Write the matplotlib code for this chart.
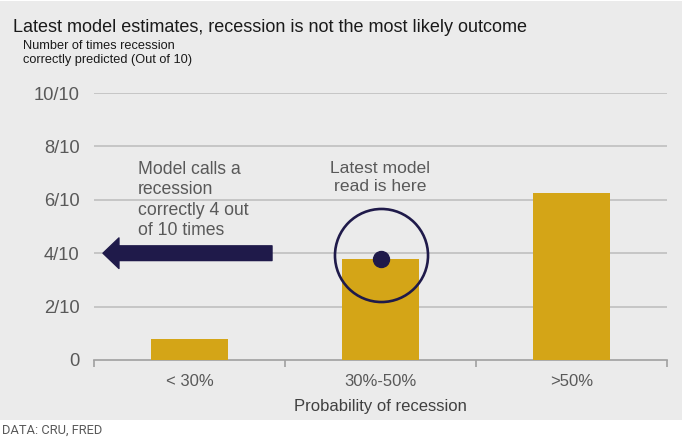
import matplotlib.pyplot as plt
import matplotlib.patches as patches

# data
categories = ["< 30%", "30%-50%", ">50%"]
correct_out_of_10 = [0.8, 3.78, 6.25]
yticks = [0, 2, 4, 6, 8, 10]
ytick_labels = ["0", "2/10", "4/10", "6/10", "8/10", "10/10"]
latest_read = 1  # index of category holding the latest model read

plt.rcParams['font.family'] = ['Liberation Sans', 'DejaVu Sans']

W, H = 684, 437
fig = plt.figure(figsize=(W / 100, H / 100), dpi=100)
fig.patch.set_facecolor("white")

# grey panel behind everything except the source line
fig.patches.append(patches.Rectangle((0, 1 - 420 / H), 682 / W, 419 / H,
                                     transform=fig.transFigure,
                                     facecolor="#ebebeb", edgecolor="none", zorder=-5))

ax = fig.add_axes([94 / W, 1 - 360 / H, (667 - 94) / W, (360 - 93) / H])
ax.set_facecolor("none")

x = range(len(categories))
ax.bar(x, correct_out_of_10, width=0.4, color="#d4a517", zorder=3)

ax.set_xlim(-0.5, len(categories) - 0.5)
ax.set_ylim(0, 10)

for y in yticks[1:]:
    ax.axhline(y, color="#bfbfbf", lw=1.2, zorder=1)

for s in ["top", "right", "left"]:
    ax.spines[s].set_visible(False)
ax.spines["bottom"].set_color("#a0a0a0")
ax.spines["bottom"].set_linewidth(1.2)

ax.set_yticks(yticks)
ax.set_yticklabels(ytick_labels)
ax.tick_params(axis="y", length=0, pad=10.5, labelsize=13.2, labelcolor="#595959")

ax.set_xticks(list(x))
ax.set_xticklabels(categories)
ax.tick_params(axis="x", which="major", length=0, pad=10, labelsize=12, labelcolor="#595959")
ax.set_xticks([i - 0.5 for i in range(len(categories) + 1)], minor=True)
ax.tick_params(axis="x", which="minor", length=5, width=1.2, color="#a0a0a0", direction="out")

ax.set_xlabel("Probability of recession", fontsize=12, color="#404040", labelpad=7)

# latest model read marker
navy = "#1f1a4a"
ax.plot(latest_read, correct_out_of_10[latest_read], "o", ms=11.5, color=navy, zorder=5)
ax.plot(latest_read, 3.93, "o", ms=67, mfc="none", mec=navy, mew=1.9, zorder=5)
ax.text(latest_read, 7.45, "Latest model\nread is here", ha="center", va="top",
        fontsize=12.6, color="#595959", linespacing=1.25)

# arrow pointing left to the 4/10 line
ax.annotate("", xy=(-0.453, 4), xytext=(0.432, 4),
            arrowprops=dict(arrowstyle="simple,head_length=11.5,head_width=22,tail_width=10.6",
                            mutation_scale=1, color=navy, shrinkA=0, shrinkB=0), zorder=5)
ax.text(-0.27, 7.45, "Model calls a\nrecession\ncorrectly 4 out\nof 10 times", ha="left", va="top",
        fontsize=12.7, color="#595959", linespacing=1.25)

fig.text(13 / W, 1 - 27 / H, "Latest model estimates, recession is not the most likely outcome",
         fontsize=13, color="#1a1a1a", va="center")
fig.text(23 / W, 1 - 40 / H, "Number of times recession\ncorrectly predicted (Out of 10)",
         fontsize=9.2, color="#1a1a1a", va="top", linespacing=1.2)
fig.text(2 / W, 1 - 430 / H, "DATA: CRU, FRED", fontsize=9.3, color="#595959", va="center",
         family=["Roboto", "DejaVu Sans"])

fig.savefig("out.png", dpi=100, facecolor="white")
